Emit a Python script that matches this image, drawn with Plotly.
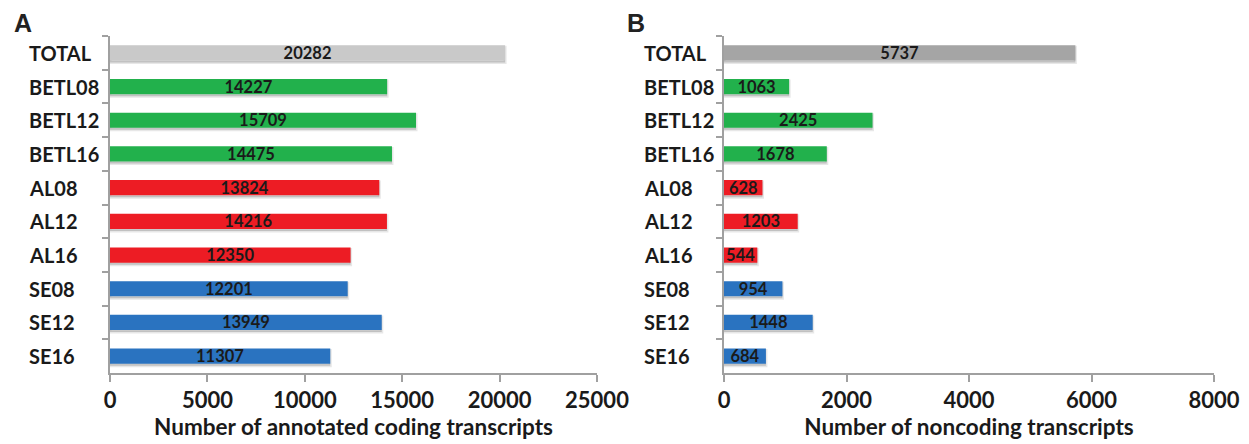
import plotly.graph_objects as go

categories = ["TOTAL", "BETL08", "BETL12", "BETL16", "AL08", "AL12", "AL16", "SE08", "SE12", "SE16"]
coding_values = [20282, 14227, 15709, 14475, 13824, 14216, 12350, 12201, 13949, 11307]
noncoding_values = [5737, 1063, 2425, 1678, 628, 1203, 544, 954, 1448, 684]

GREEN = "#22b14c"
RED = "#ed1c24"
BLUE = "#2a73c0"
colors_a = ["#c9c9c9"] + [GREEN] * 3 + [RED] * 3 + [BLUE] * 3
colors_b = ["#a5a5a5"] + [GREEN] * 3 + [RED] * 3 + [BLUE] * 3

FONT = "Lato"
TXT = "#1a1a1a"
BAR_W = 0.45
SHADOW = "rgba(60,60,60,0.22)"

fig = go.Figure()
for vals, cols, xa, ya in ((coding_values, colors_a, "x", "y"),
                           (noncoding_values, colors_b, "x2", "y2")):
    # soft drop shadow under each bar
    fig.add_trace(go.Bar(
        y=categories, x=vals, orientation="h",
        marker=dict(color=SHADOW, line=dict(width=3, color="rgba(60,60,60,0.12)")),
        width=BAR_W, offset=-BAR_W / 2 + 0.06,
        xaxis=xa, yaxis=ya, showlegend=False, hoverinfo="skip",
    ))
    fig.add_trace(go.Bar(
        y=categories, x=vals, orientation="h",
        marker=dict(color=cols, line=dict(width=0)),
        width=BAR_W, offset=-BAR_W / 2,
        text=[str(v) for v in vals], textposition="inside",
        insidetextanchor="middle", constraintext="none",
        textfont=dict(family=FONT, size=16.5, color=TXT, weight="bold"),
        xaxis=xa, yaxis=ya, showlegend=False, hoverinfo="x+y",
    ))

# page body has an 8px default margin; compensate so the plot lands where the reference is
OFF = 8
W, H = 1249 - OFF, 444 - OFF


def px(v):
    return (v - OFF) / W


def py(v):
    return 1 - (v - OFF) / H


ydom = [py(373), py(36)]

xaxis_common = dict(
    showgrid=False, zeroline=False, showline=True, linecolor="#a0a0a0", linewidth=1.5,
    ticks="outside", ticklen=7, tickcolor="#a0a0a0", tickwidth=1.5,
    tickformat="d", automargin=False,
    tickfont=dict(family=FONT, size=22, color=TXT, weight="bold"),
    title_font=dict(family=FONT, size=22.5, color=TXT, weight="bold"),
    title_standoff=2,
)
yaxis_common = dict(
    type="category", categoryorder="array", categoryarray=categories,
    autorange="reversed", showgrid=False, zeroline=False,
    showline=True, linecolor="#a0a0a0", linewidth=1.5,
    ticks="outside", ticklen=6, tickcolor="#a0a0a0", tickwidth=1.5,
    tickson="boundaries", automargin=False, showticklabels=False,
)

annotations = []
# left-aligned category labels, as in the reference
for yref, xleft in (("y", 28), ("y2", 643)):
    for c in categories:
        annotations.append(dict(
            text=c, x=px(xleft), y=c, xref="paper", yref=yref,
            xanchor="left", yanchor="middle", showarrow=False, borderpad=0,
            font=dict(family=FONT, size=20, color=TXT, weight="bold"),
        ))

for letter, xl in (("A", 13), ("B", 626)):
    annotations.append(dict(
        text=letter, x=px(xl), y=py(23), xref="paper", yref="paper",
        xanchor="left", yanchor="middle", showarrow=False, borderpad=0,
        font=dict(family="Liberation Sans", size=25, color="#222222", weight="bold"),
    ))

fig.update_layout(
    width=W, height=H,
    margin=dict(l=0, r=0, t=0, b=0),
    paper_bgcolor="white", plot_bgcolor="white",
    xaxis=dict(domain=[px(110), px(597)], range=[0, 25000], dtick=5000,
               title_text="Number of annotated coding transcripts", anchor="y", **xaxis_common),
    yaxis=dict(domain=ydom, anchor="x", **yaxis_common),
    xaxis2=dict(domain=[px(724), px(1214)], range=[0, 8000], dtick=2000,
                title_text="Number of noncoding transcripts", anchor="y2", **xaxis_common),
    yaxis2=dict(domain=ydom, anchor="x2", **yaxis_common),
    barmode="overlay",
    annotations=annotations,
)

fig.write_html("out.html")
